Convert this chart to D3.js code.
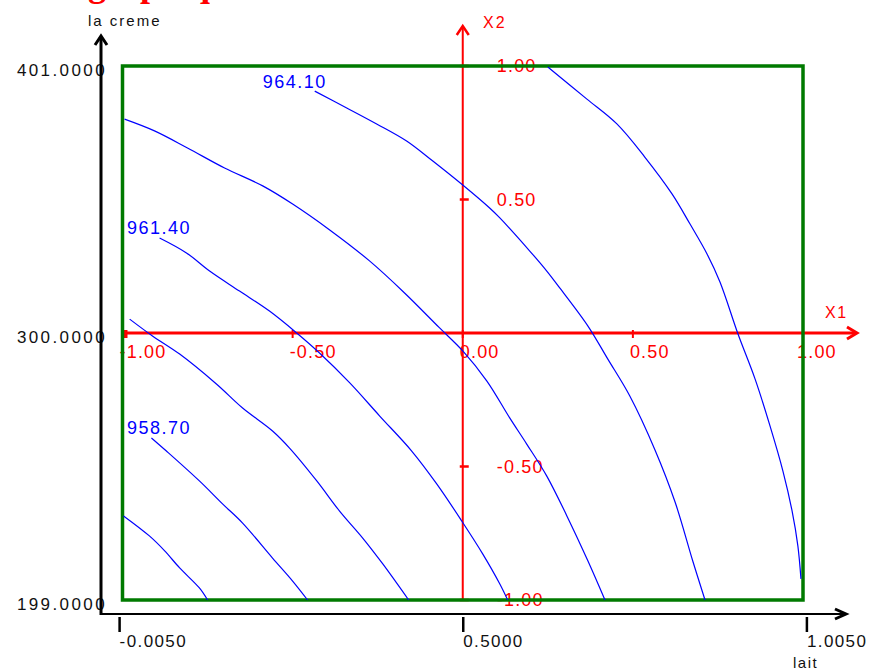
<!DOCTYPE html>
<html><head><meta charset="utf-8">
<script src="https://cdn.jsdelivr.net/npm/d3@7"></script>
<style>
body{margin:0;background:#fff;}
svg{display:block;}
</style></head><body>
<svg id="chart" width="871" height="670"></svg>
<script>
// ---------- data ----------
const titleText = "graphique";
const xAxisTitle = "lait";
const yAxisTitle = "la creme";
const laitTicks = [-0.005, 0.5, 1.005];
const laitTickLabels = ["-0.0050", "0.5000", "1.0050"];
const cremeTicks = [199, 300, 401];
const cremeTickLabels = ["199.0000", "300.0000", "401.0000"];
const codedX1Ticks = [-1, -0.5, 0, 0.5, 1];
const codedX1Labels = ["-1.00", "-0.50", "0.00", "0.50", "1.00"];
const codedX2Ticks = [-1, -0.5, 0.5, 1];
const codedX2Labels = ["-1.00", "-0.50", "0.50", "1.00"];
const levels = [957.35, 958.70, 960.05, 961.40, 962.75, 964.10, 965.45];
const labeledLevels = [958.70, 961.40, 964.10];
// contour points in coded units [X1, X2]
const contour1 = [[-0.997,-0.685],[-0.921,-0.760],[-0.876,-0.816],[-0.832,-0.880],[-0.774,-0.955],[-0.750,-1.0]];
const contour2 = [[-0.915,-0.393],[-0.871,-0.442],[-0.774,-0.554],[-0.706,-0.640],[-0.647,-0.712],[-0.559,-0.843],[-0.500,-0.929],[-0.456,-1.0]];
const contour3 = [[-0.979,0.052],[-0.912,-0.011],[-0.832,-0.079],[-0.724,-0.191],[-0.647,-0.281],[-0.559,-0.367],[-0.509,-0.431],[-0.429,-0.554],[-0.362,-0.667],[-0.294,-0.768],[-0.235,-0.865],[-0.159,-1.0]];
const contour4 = [[-0.891,0.356],[-0.812,0.300],[-0.744,0.232],[-0.656,0.157],[-0.568,0.082],[-0.488,0.0],[-0.421,-0.075],[-0.332,-0.187],[-0.244,-0.311],[-0.150,-0.442],[-0.076,-0.566],[-0.003,-0.704],[0.059,-0.828],[0.109,-0.940],[0.132,-1.0]];
const contour5 = [[-0.994,0.801],[-0.906,0.757],[-0.809,0.693],[-0.700,0.618],[-0.588,0.551],[-0.500,0.483],[-0.391,0.386],[-0.274,0.270],[-0.171,0.150],[-0.068,0.019],[0.0,-0.067],[0.071,-0.180],[0.138,-0.318],[0.188,-0.416],[0.247,-0.536],[0.306,-0.685],[0.368,-0.854],[0.418,-1.0]];
const contour6 = [[-0.435,0.906],[-0.341,0.843],[-0.253,0.783],[-0.165,0.719],[-0.088,0.644],[0.0,0.554],[0.079,0.468],[0.109,0.431],[0.197,0.307],[0.247,0.232],[0.285,0.169],[0.368,0.026],[0.426,-0.097],[0.491,-0.236],[0.565,-0.438],[0.624,-0.633],[0.676,-0.854],[0.712,-1.0]];
const contour7 = [[0.250,0.996],[0.365,0.876],[0.453,0.783],[0.535,0.659],[0.615,0.521],[0.668,0.408],[0.718,0.296],[0.756,0.191],[0.809,-0.004],[0.859,-0.172],[0.903,-0.348],[0.941,-0.517],[0.968,-0.667],[0.985,-0.798],[0.994,-0.921]];
const contourSets = [contour1, contour2, contour3, contour4, contour5, contour6, contour7];

// ---------- layout ----------
const svg = d3.select("#chart");
const plotL = 122.5, plotR = 803, plotT = 66, plotB = 600;
const xLait = d3.scaleLinear().domain([0, 1]).range([plotL, plotR]);
const yCreme = d3.scaleLinear().domain([199, 401]).range([plotB, plotT]);
const xc = d3.scaleLinear().domain([-1, 1]).range([plotL, plotR]);
const yc = d3.scaleLinear().domain([-1, 1]).range([plotB, plotT]);
const axisX = 101, axisY = 614;
const red = "#ff0000", blue = "#0000ff", green = "#007a00";
const sans = "'Liberation Sans', Arial, sans-serif";

svg.append("rect").attr("width", 871).attr("height", 670).attr("fill", "#fff");

// title (mostly off the top edge, as in the reference)
svg.append("text").attr("x", 88).attr("y", -4)
  .attr("font-family", "'Liberation Serif', 'Times New Roman', serif")
  .attr("font-weight", "bold").attr("font-size", 36).attr("fill", red)
  .text(titleText);

// ---------- black axes ----------
const gBottom = svg.append("g").attr("transform", `translate(0,${axisY})`)
  .call(d3.axisBottom(xLait).tickValues(laitTicks).tickSize(18).tickPadding(3)
    .tickFormat((d, i) => laitTickLabels[i]));
gBottom.select(".domain").remove();
gBottom.selectAll(".tick line").attr("stroke", "#000").attr("stroke-width", 2.5).attr("y1", 3);
gBottom.selectAll(".tick text").attr("text-anchor", "start").attr("dx", 0)
  .attr("font-family", sans).attr("font-size", 17).attr("letter-spacing", 1.4).attr("fill", "#111");

const gLeft = svg.append("g").attr("transform", `translate(${axisX},0)`)
  .call(d3.axisLeft(yCreme).tickValues(cremeTicks).tickSize(0).tickPadding(-6)
    .tickFormat((d, i) => cremeTickLabels[i]));
gLeft.select(".domain").remove();
gLeft.selectAll(".tick text").attr("dy", 9)
  .attr("font-family", sans).attr("font-size", 17).attr("letter-spacing", 2.4).attr("fill", "#111");

svg.append("line").attr("x1", axisX).attr("x2", axisX).attr("y1", 37).attr("y2", axisY + 1)
  .attr("stroke", "#000").attr("stroke-width", 3);
svg.append("path").attr("d", `M${axisX - 6},${45} L${axisX},${36} L${axisX + 6},${45}`)
  .attr("fill", "none").attr("stroke", "#000").attr("stroke-width", 3);
svg.append("line").attr("x1", axisX).attr("x2", 845).attr("y1", axisY).attr("y2", axisY)
  .attr("stroke", "#000").attr("stroke-width", 2);
svg.append("path").attr("d", `M${835},${axisY - 5} L${846},${axisY} L${835},${axisY + 5}`)
  .attr("fill", "none").attr("stroke", "#000").attr("stroke-width", 3);

svg.append("text").attr("x", 88).attr("y", 26).attr("font-family", sans)
  .attr("font-size", 15).attr("letter-spacing", 2).attr("fill", "#111").text(yAxisTitle);
svg.append("text").attr("x", 793).attr("y", 668).attr("font-family", sans)
  .attr("font-size", 15).attr("letter-spacing", 1.5).attr("fill", "#111").text(xAxisTitle);

// ---------- red coded axes ----------
const y0 = yc(0), x0 = xc(0);
svg.append("line").attr("x1", plotL).attr("x2", 856).attr("y1", y0).attr("y2", y0)
  .attr("stroke", red).attr("stroke-width", 3);
svg.append("path").attr("d", `M${847},${y0 - 6} L${857},${y0} L${847},${y0 + 6}`)
  .attr("fill", "none").attr("stroke", red).attr("stroke-width", 3);
svg.append("line").attr("x1", x0).attr("x2", x0).attr("y1", plotB).attr("y2", 27)
  .attr("stroke", red).attr("stroke-width", 2);
svg.append("path").attr("d", `M${x0 - 6},${35} L${x0},${26} L${x0 + 6},${35}`)
  .attr("fill", "none").attr("stroke", red).attr("stroke-width", 2.5);

// X1 ticks & labels
svg.selectAll(".x1tick").data(codedX1Ticks).join("line").attr("class", "x1tick")
  .attr("x1", d => xc(d) + (d === -1 ? 2.5 : 0)).attr("x2", d => xc(d) + (d === -1 ? 2.5 : 0))
  .attr("y1", y0 - 3).attr("y2", y0 + 5)
  .attr("stroke", red).attr("stroke-width", d => d === -1 ? 5 : 2);
svg.selectAll(".x1lab").data(codedX1Ticks).join("text").attr("class", "x1lab")
  .attr("x", d => xc(d) - (d === 1 ? 6 : 3)).attr("y", y0 + 25)
  .attr("font-family", sans).attr("font-size", 18).attr("letter-spacing", 1.2).attr("fill", red)
  .text((d, i) => codedX1Labels[i]);
// X2 ticks & labels
svg.selectAll(".x2tick").data(codedX2Ticks).join("line").attr("class", "x2tick")
  .attr("x1", x0 - 3).attr("x2", x0 + 6).attr("y1", d => yc(d)).attr("y2", d => yc(d))
  .attr("stroke", red).attr("stroke-width", 2.5);
svg.selectAll(".x2lab").data(codedX2Ticks).join("text").attr("class", "x2lab")
  .attr("x", x0 + 34).attr("y", d => yc(d) + 6)
  .attr("font-family", sans).attr("font-size", 18).attr("letter-spacing", 1.2).attr("fill", red)
  .text((d, i) => codedX2Labels[i]);

svg.append("text").attr("x", 825).attr("y", 318).attr("font-family", sans)
  .attr("font-size", 16).attr("letter-spacing", 1.5).attr("fill", red).text("X1");
svg.append("text").attr("x", 483).attr("y", 28).attr("font-family", sans)
  .attr("font-size", 16).attr("letter-spacing", 2).attr("fill", red).text("X2");

// ---------- green domain box ----------
svg.append("rect").attr("x", plotL).attr("y", plotT)
  .attr("width", plotR - plotL).attr("height", plotB - plotT)
  .attr("fill", "none").attr("stroke", green).attr("stroke-width", 3.5);

// ---------- contours ----------
const line = d3.line().x(d => xc(d[0])).y(d => yc(d[1])).curve(d3.curveCatmullRom.alpha(0.5));
const gC = svg.append("g");
contourSets.forEach((pts, i) => {
  gC.append("path").attr("d", line(pts)).attr("fill", "none")
    .attr("stroke", blue).attr("stroke-width", 1.2);
  if (labeledLevels.includes(levels[i])) {
    const sx = xc(pts[0][0]), sy = yc(pts[0][1]);
    gC.append("text").attr("x", Math.max(plotL + 4.5, sx - 52)).attr("y", sy - 3.5)
      .attr("font-family", sans).attr("font-size", 18).attr("letter-spacing", 1.5)
      .attr("fill", blue).text(levels[i].toFixed(2));
  }
});
</script>
</body></html>
